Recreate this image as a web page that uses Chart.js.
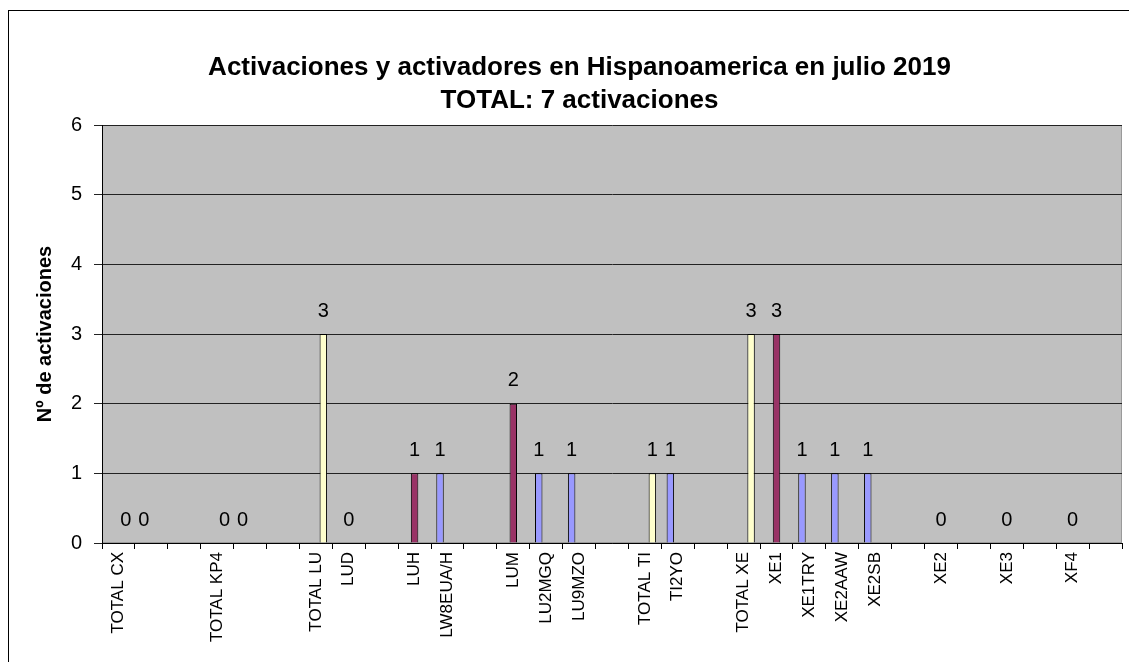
<!DOCTYPE html>
<html>
<head>
<meta charset="utf-8">
<script src="https://cdn.jsdelivr.net/npm/chart.js@4"></script>
<style>
    html, body { margin: 0; padding: 0; background: #fff; overflow: hidden; }
    #wrap { width: 1129px; height: 662px; position: relative; }
</style>
</head>
<body>
<div id="wrap"><canvas id="activacionesChart" width="1129" height="662"></canvas></div>
<script>
// categories (empty strings are unlabeled slots in the original sheet)
const categories = ['TOTAL CX', '', '', 'TOTAL KP4', '', '', 'TOTAL LU', 'LUD', '', 'LUH',
    'LW8EUA/H', '', 'LUM', 'LU2MGQ', 'LU9MZO', '', 'TOTAL TI', 'TI2YO', '', 'TOTAL XE',
    'XE1', 'XE1TRY', 'XE2AAW', 'XE2SB', '', 'XE2', '', 'XE3', '', 'XF4', ''];

// activadores (blue)
const activadores = [null, 0, null, null, 0, null, null, null, null, null,
    1, null, null, 1, 1, null, null, 1, null, null,
    null, 1, 1, 1, null, null, null, null, null, null, null];

// activaciones por referencia (maroon)
const referencias = [null, null, null, null, null, null, null, 0, null, 1,
    null, null, 2, null, null, null, null, null, null, null,
    3, null, null, null, null, 0, null, 0, null, 0, null];

// totales por pais (yellow)
const totales = [0, null, null, 0, null, null, 3, null, null, null,
    null, null, null, null, null, null, 1, null, null, 3,
    null, null, null, null, null, null, null, null, null, null, null];

const yTicks = [0, 1, 2, 3, 4, 5, 6];

const FONT = 'Liberation Sans, Arial, sans-serif';

// gray plot area + outer frame, like the Excel original
const plotBackground = {
    id: 'plotBackground',
    beforeDraw(chart) {
        const c = chart.ctx;
        const a = chart.chartArea;
        c.save();
        c.strokeStyle = '#000';
        c.lineWidth = 1;
        c.strokeRect(8.5, 10.5, 2000, 2000);
        c.fillStyle = '#C0C0C0';
        c.fillRect(a.left, a.top, a.right - a.left, a.bottom - a.top);
        c.strokeStyle = '#9a9a9a';
        c.strokeRect(a.left + 0.5, a.top + 0.5, a.right - a.left - 1, a.bottom - a.top - 1);
        c.restore();
    }
};

// value labels above each bar
const valueLabels = {
    id: 'valueLabels',
    afterDatasetsDraw(chart) {
        const c = chart.ctx;
        c.save();
        c.font = '20px ' + FONT;
        c.fillStyle = '#000';
        c.textAlign = 'center';
        c.textBaseline = 'middle';
        chart.data.datasets.forEach((ds, i) => {
            const meta = chart.getDatasetMeta(i);
            meta.data.forEach((bar, j) => {
                const v = ds.data[j];
                if (v === null || v === undefined) return;
                c.fillText(String(v), bar.x, bar.y - 23);
            });
        });
        c.restore();
    }
};

const ctx = document.getElementById('activacionesChart');

new Chart(ctx, {
    type: 'bar',
    data: {
        labels: categories,
        datasets: [{
            label: 'Activadores',
            data: activadores,
            backgroundColor: '#9999FF',
            borderColor: '#000',
            borderWidth: 1
        }, {
            label: 'Referencias',
            data: referencias,
            backgroundColor: '#993366',
            borderColor: '#000',
            borderWidth: 1
        }, {
            label: 'Total',
            data: totales,
            backgroundColor: '#FFFFCC',
            borderColor: '#000',
            borderWidth: 1
        }]
    },
    plugins: [plotBackground, valueLabels],
    options: {
        responsive: false,
        animation: false,
        devicePixelRatio: 1,
        layout: {
            padding: { left: 33, right: 3, top: 20, bottom: 20 }
        },
        datasets: {
            bar: {
                categoryPercentage: 0.68,
                barPercentage: 1.0,
                skipNull: false
            }
        },
        scales: {
            x: {
                grid: {
                    display: true,
                    drawOnChartArea: false,
                    drawTicks: true,
                    tickLength: 6,
                    color: '#000'
                },
                border: { color: '#000', width: 1 },
                ticks: {
                    autoSkip: false,
                    maxRotation: 90,
                    minRotation: 90,
                    padding: 3,
                    color: '#000',
                    font: { family: FONT, size: 17 }
                },
                afterFit(scale) {
                    scale.height = 99;
                }
            },
            y: {
                min: 0,
                max: 6,
                afterBuildTicks(scale) {
                    scale.ticks = yTicks.map(v => ({ value: v }));
                },
                grid: {
                    color: '#222',
                    tickLength: 8,
                    drawTicks: true
                },
                border: { color: '#000', width: 1 },
                ticks: {
                    padding: 12,
                    color: '#000',
                    font: { family: FONT, size: 20 }
                },
                title: {
                    display: true,
                    text: 'Nº de activaciones',
                    color: '#000',
                    font: { family: FONT, size: 20, weight: 'bold' },
                    padding: { top: 0, bottom: 0 }
                },
                afterFit(scale) {
                    scale.width = 69;
                }
            }
        },
        plugins: {
            legend: { display: false },
            tooltip: { enabled: false },
            title: {
                display: true,
                text: ['Activaciones y activadores en Hispanoamerica en julio 2019', 'TOTAL: 7 activaciones'],
                color: '#000',
                font: { family: FONT, size: 26, weight: 'bold', lineHeight: 1.25 },
                padding: { top: 32, bottom: 8 }
            }
        }
    }
});
</script>
</body>
</html>
